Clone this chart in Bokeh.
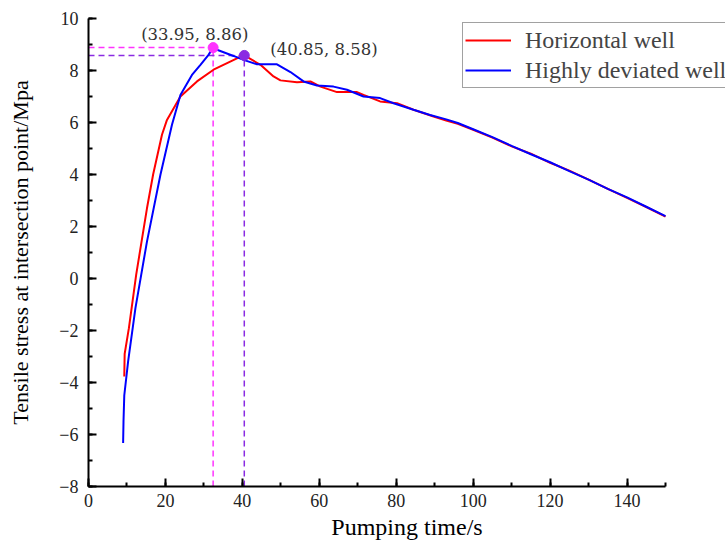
from bokeh.plotting import figure
from bokeh.models import Range1d, SingleIntervalTicker, Legend, LegendItem, Label
from bokeh.embed import file_html
from bokeh.resources import INLINE

# Horizontal well (red)
h_x = [9.3, 9.4, 10.5, 12.4, 15.2, 16.8, 19.1, 20.4, 23.9, 28.2, 32.5, 38.6, 40.5,
       44.7, 48.1, 49.9, 54.2, 57.7, 60.3, 64.6, 69.8, 71.5, 75.8, 80.2, 84.5, 89.7,
       93, 96, 100, 105, 110, 115, 120, 125, 130, 135, 140, 145, 150]
h_y = [-3.77, -2.9, -1.91, 0.15, 2.7, 4.0, 5.53, 6.1, 7.0, 7.58, 8.03, 8.47, 8.58,
       8.22, 7.77, 7.62, 7.55, 7.58, 7.38, 7.17, 7.17, 7.06, 6.81, 6.74, 6.49, 6.23,
       6.08, 5.95, 5.72, 5.42, 5.08, 4.8, 4.45, 4.15, 3.8, 3.45, 3.1, 2.75, 2.38]

# Highly deviated well (blue)
d_x = [9.0, 9.1, 9.3, 10.3, 12.2, 15.2, 18.7, 21.7, 23.9, 26.9, 29.1, 31.2, 32.4,
       33.4, 37.7, 40.3, 43.8, 49.0, 52.5, 55.9, 59.4, 63.7, 67.2, 71.5, 75.8, 79.3,
       84.5, 88.8, 93, 96, 100, 105, 110, 115, 120, 125, 130, 135, 140, 145, 150]
d_y = [-6.33, -5.5, -4.5, -3.19, -1.14, 1.42, 3.99, 5.91, 7.06, 7.83, 8.22, 8.6, 8.88,
       8.8, 8.56, 8.41, 8.24, 8.24, 7.94, 7.58, 7.42, 7.38, 7.26, 7.0, 6.94, 6.74,
       6.49, 6.29, 6.12, 5.98, 5.74, 5.44, 5.1, 4.78, 4.47, 4.13, 3.8, 3.45, 3.12, 2.76, 2.4]

# Peak markers (position as drawn, label text as printed)
peak_x = [32.4, 40.5]
peak_y = [8.88, 8.58]
peak_labels = ["(33.95, 8.86)", "(40.85, 8.58)"]
peak_colors = ["#FF33FF", "#8A2BE2"]

X_MIN, X_MAX = 0, 150
Y_MIN, Y_MAX = -8, 10

SERIF = "Liberation Serif"

p = figure(width=725, height=547, output_backend="svg", toolbar_location=None,
           x_range=Range1d(X_MIN, 165.6), y_range=Range1d(Y_MIN, Y_MAX),
           min_border_left=88, min_border_right=0, min_border_top=18, min_border_bottom=61)
p.outline_line_color = None
p.grid.visible = False
p.background_fill_color = "white"
p.border_fill_color = "white"

# dashed guide lines
for px, py, c in zip(peak_x, peak_y, peak_colors):
    p.line([X_MIN, px], [py, py], line_color=c, line_dash="6 4", line_width=1.5)
    p.line([px, px], [Y_MIN, py], line_color=c, line_dash="6 4", line_width=1.5)

r1 = p.line(h_x, h_y, line_color="#FF0000", line_width=2)
r2 = p.line(d_x, d_y, line_color="#0000FF", line_width=2)

p.scatter(peak_x, peak_y, size=10, color=peak_colors, line_color=peak_colors)

label_offsets = [(-72, 4), (26, -4)]
for px, py, t, (dx, dy) in zip(peak_x, peak_y, peak_labels, label_offsets):
    p.add_layout(Label(x=px, y=py, text=t, x_offset=dx, y_offset=dy,
                       text_font="DejaVu Serif", text_font_size="16.5px",
                       text_color="#333333", text_baseline="bottom"))

legend = Legend(items=[LegendItem(label="Horizontal well", renderers=[r1]),
                       LegendItem(label="Highly deviated well", renderers=[r2])],
                location=(374, 398))
legend.label_text_font = SERIF
legend.label_text_font_size = "24px"
legend.glyph_width = 46
legend.glyph_height = 30
legend.label_height = 30
legend.label_standoff = 14
legend.spacing = 0
legend.padding = 2
legend.margin = 0
legend.border_line_color = "#444444"
legend.border_line_width = 1
legend.background_fill_alpha = 1
p.add_layout(legend, "center")

for ax in (p.xaxis[0], p.yaxis[0]):
    ax.axis_line_width = 2
    ax.axis_line_color = "black"
    ax.major_tick_in = 8
    ax.major_tick_out = 0
    ax.minor_tick_in = 4
    ax.minor_tick_out = 0
    ax.major_tick_line_width = 2
    ax.minor_tick_line_width = 2
    ax.major_tick_line_color = "black"
    ax.minor_tick_line_color = "black"
    ax.major_label_text_font = SERIF
    ax.major_label_text_font_size = "18px"
    ax.major_label_text_color = "#222222"
    ax.axis_label_text_font = SERIF
    ax.axis_label_text_font_style = "normal"
    ax.axis_label_text_color = "black"

p.xaxis.bounds = (X_MIN, X_MAX)
p.xaxis.ticker = SingleIntervalTicker(interval=20, num_minor_ticks=2)
p.yaxis.ticker = SingleIntervalTicker(interval=2, num_minor_ticks=2)
p.xaxis.axis_label = "Pumping time/s"
p.yaxis.axis_label = "Tensile stress at intersection point/Mpa"
p.xaxis.axis_label_text_font_size = "24px"
p.yaxis.axis_label_text_font_size = "22px"
p.xaxis.major_label_standoff = 7
p.yaxis.major_label_standoff = 10
p.xaxis.axis_label_standoff = 4
p.yaxis.axis_label_standoff = 23

open("out.html", "w").write(file_html(p, INLINE))
